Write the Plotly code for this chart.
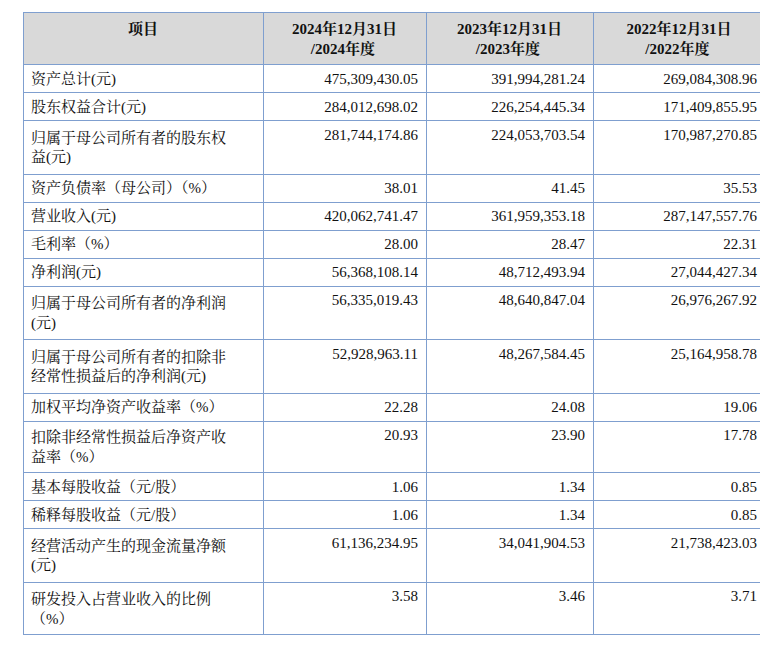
import plotly.graph_objects as go

items = ["资产总计(元)", "股东权益合计(元)", "归属于母公司所有者的股东权<br>益(元)", "资产负债率（母公司）（%）",
         "营业收入(元)", "毛利率（%）", "净利润(元)", "归属于母公司所有者的净利润<br>(元)",
         "归属于母公司所有者的扣除非<br>经常性损益后的净利润(元)", "加权平均净资产收益率（%）",
         "扣除非经常性损益后净资产收<br>益率（%）", "基本每股收益（元/股）", "稀释每股收益（元/股）",
         "经营活动产生的现金流量净额<br>(元)", "研发投入占营业收入的比例<br>（%）"]
v2024 = ["475,309,430.05", "284,012,698.02", "281,744,174.86", "38.01", "420,062,741.47", "28.00",
         "56,368,108.14", "56,335,019.43", "52,928,963.11", "22.28", "20.93", "1.06", "1.06",
         "61,136,234.95", "3.58"]
v2023 = ["391,994,281.24", "226,254,445.34", "224,053,703.54", "41.45", "361,959,353.18", "28.47",
         "48,712,493.94", "48,640,847.04", "48,267,584.45", "24.08", "23.90", "1.34", "1.34",
         "34,041,904.53", "3.46"]
v2022 = ["269,084,308.96", "171,409,855.95", "170,987,270.85", "35.53", "287,147,557.76", "22.31",
         "27,044,427.34", "26,976,267.92", "25,164,958.78", "19.06", "17.78", "0.85", "0.85",
         "21,738,423.03", "3.71"]
pad = "&nbsp;" * 5
headers = ["<br><b>项目</b>", f"<b>2024年12月31日<br>{pad}/2024年度</b>", f"<b>2023年12月31日<br>{pad}/2023年度</b>",
           f"<b>2022年12月31日<br>{pad}/2022年度</b>"]

font = "Liberation Serif, Noto Serif CJK SC, Noto Sans CJK SC, serif"
border = "#7f9fcf"

fig = go.Figure(go.Table(
    domain=dict(x=[15 / 768, 757 / 768], y=[0.0, 1 - 4 / 662]),
    columnwidth=[240, 163, 167, 172],
    header=dict(values=headers, fill_color="#d9d9d9", line_color=border,
                align="center", height=52,
                font=dict(family=font, size=15, color="#111")),
    cells=dict(values=[items, v2024, v2023, v2022], fill_color="white", line_color=border,
               align=["left", "right", "right", "right"], height=28,
               font=dict(family=font, size=15, color="#111")),
))
fig.update_layout(width=768, height=662, margin=dict(l=0, r=0, t=0, b=0),
                  paper_bgcolor="white")
fig.write_html("out.html")
